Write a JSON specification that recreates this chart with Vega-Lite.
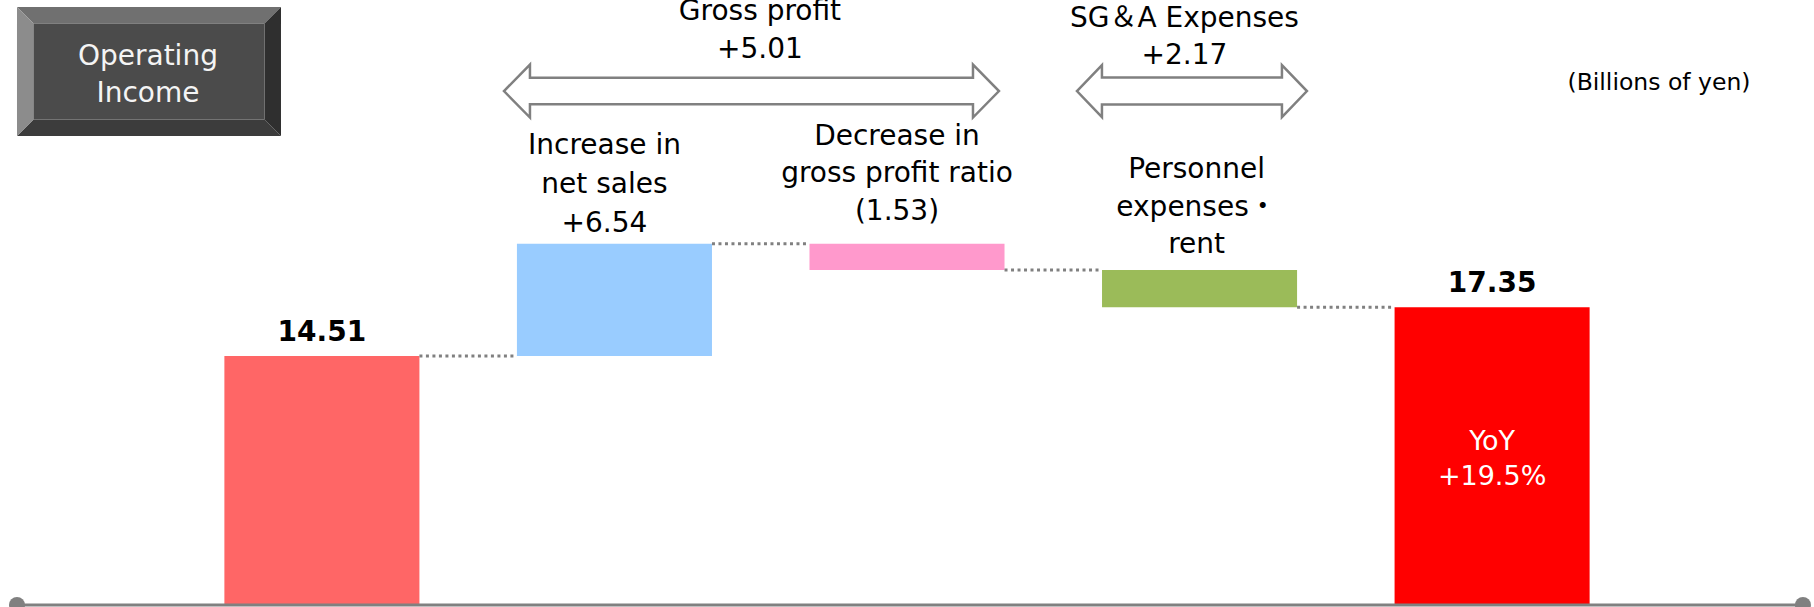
{
  "$schema": "https://vega.github.io/schema/vega-lite/v6.json",
  "width": 1814,
  "height": 605,
  "autosize": {"type": "none"},
  "padding": {"left": 0, "right": 0, "top": 0, "bottom": 2},
  "background": "#ffffff",
  "config": {"view": {"stroke": null}, "text": {"font": "DejaVu Sans, Noto Sans CJK JP"}},
  "datasets": {
    "steps": [
      {"step": "Previous year", "kind": "total", "change": 14.51, "start": 0, "end": 14.51},
      {"step": "Increase in net sales", "kind": "change", "change": 6.54, "start": 14.51, "end": 21.05, "label": "Increase in\nnet sales\n+6.54"},
      {"step": "Decrease in gross profit ratio", "kind": "change", "change": -1.53, "start": 21.05, "end": 19.52, "label": "Decrease in\ngross profit ratio\n(1.53)"},
      {"step": "Personnel expenses・rent", "kind": "change", "change": -2.17, "start": 19.52, "end": 17.35, "label": "Personnel\nexpenses・\nrent"},
      {"step": "Current year", "kind": "total", "change": 17.35, "start": 0, "end": 17.35, "note": "YoY\n+19.5%"}
    ],
    "connectors": [
      {"from": "Previous year", "to": "Increase in net sales", "level": 14.51},
      {"from": "Increase in net sales", "to": "Decrease in gross profit ratio", "level": 21.05},
      {"from": "Decrease in gross profit ratio", "to": "Personnel expenses・rent", "level": 19.52},
      {"from": "Personnel expenses・rent", "to": "Current year", "level": 17.35}
    ],
    "brackets": [
      {"group": "Gross profit", "change": 5.01, "anchor": "Increase in net sales", "label": "Gross profit\n+5.01"},
      {"group": "SG＆A Expenses", "change": 2.17, "anchor": "Personnel expenses・rent", "label": "SG＆A Expenses\n+2.17"}
    ],
    "meta": [
      {"title": "Operating Income", "unit": "(Billions of yen)"}
    ]
  },
  "layer": [
    {
      "data": {"name": "steps"},
      "mark": {"type": "bar"},
      "encoding": {
        "x": {"field": "step", "type": "nominal", "axis": null,
          "scale": {"type": "band", "domain": ["Previous year", "Increase in net sales", "Decrease in gross profit ratio", "Personnel expenses・rent", "Current year"], "paddingInner": 0.3333, "paddingOuter": 0.767}},
        "y": {"field": "start", "type": "quantitative", "axis": null, "scale": {"domain": [0, 35.256], "nice": false, "zero": false}},
        "y2": {"field": "end"},
        "color": {"field": "step", "type": "nominal", "legend": null,
          "scale": {"domain": ["Previous year", "Increase in net sales", "Decrease in gross profit ratio", "Personnel expenses・rent", "Current year"], "range": ["#FF6666", "#99CCFF", "#FF99CC", "#9BBB59", "#FF0000"]}}
      }
    },
    {
      "data": {"name": "meta"},
      "mark": {"type": "point", "shape": "M-1,-0.4886L1,-0.4886L0.875,-0.3636L-0.875,-0.3636Z", "size": 69696, "filled": true, "fill": "#707070", "opacity": 1, "strokeWidth": 0},
      "encoding": {"x": {"datum": "Previous year", "bandPosition": -0.3866}, "y": {"datum": 31.09}}
    },
    {
      "data": {"name": "meta"},
      "mark": {"type": "point", "shape": "M-1,0.4886L1,0.4886L0.875,0.3636L-0.875,0.3636Z", "size": 69696, "filled": true, "fill": "#3c3c3c", "opacity": 1, "strokeWidth": 0},
      "encoding": {"x": {"datum": "Previous year", "bandPosition": -0.3866}, "y": {"datum": 31.09}}
    },
    {
      "data": {"name": "meta"},
      "mark": {"type": "point", "shape": "M-1,-0.4886L-0.875,-0.3636L-0.875,0.3636L-1,0.4886Z", "size": 69696, "filled": true, "fill": "#8c8c8c", "opacity": 1, "strokeWidth": 0},
      "encoding": {"x": {"datum": "Previous year", "bandPosition": -0.3866}, "y": {"datum": 31.09}}
    },
    {
      "data": {"name": "meta"},
      "mark": {"type": "point", "shape": "M1,-0.4886L0.875,-0.3636L0.875,0.3636L1,0.4886Z", "size": 69696, "filled": true, "fill": "#2f2f2f", "opacity": 1, "strokeWidth": 0},
      "encoding": {"x": {"datum": "Previous year", "bandPosition": -0.3866}, "y": {"datum": 31.09}}
    },
    {
      "data": {"name": "meta"},
      "mark": {"type": "point", "shape": "M-0.875,-0.3636L0.875,-0.3636L0.875,0.3636L-0.875,0.3636Z", "size": 69696, "filled": true, "fill": "#4b4b4b", "opacity": 1, "strokeWidth": 0},
      "encoding": {"x": {"datum": "Previous year", "bandPosition": -0.3866}, "y": {"datum": 31.09}}
    },
    {
      "data": {"name": "meta"},
      "mark": {"type": "text", "fontSize": 28, "color": "#f4f4f4", "lineBreak": " ", "lineHeight": 37, "baseline": "alphabetic", "align": "center"},
      "encoding": {"x": {"datum": "Previous year", "bandPosition": -0.392}, "y": {"datum": 31.47}, "text": {"field": "title"}}
    },
    {
      "data": {"name": "meta"},
      "mark": {"type": "text", "fontSize": 23.5, "color": "#000000", "baseline": "alphabetic", "align": "center"},
      "encoding": {"x": {"datum": "Current year", "bandPosition": 1.3556}, "y": {"datum": 30.01}, "text": {"field": "unit"}}
    },
    {
      "data": {"name": "brackets"},
      "transform": [{"filter": "datum.group === 'Gross profit'"}],
      "mark": {"type": "point", "shape": "M-1,0L-0.895,-0.1071L-0.895,-0.0535L0.895,-0.0535L0.895,-0.1071L1,0L0.895,0.1071L0.895,0.0535L-0.895,0.0535L-0.895,0.1071Z", "size": 245025, "filled": true, "fill": "#ffffff", "stroke": "#808080", "strokeWidth": 2.5, "opacity": 1},
      "encoding": {"x": {"field": "anchor", "type": "nominal", "bandPosition": 1.2025}, "y": {"datum": 29.95}}
    },
    {
      "data": {"name": "brackets"},
      "transform": [{"filter": "datum.group === 'SG＆A Expenses'"}],
      "mark": {"type": "point", "shape": "M-1,0L-0.7826,-0.2261L-0.7826,-0.1174L0.7826,-0.1174L0.7826,-0.2261L1,0L0.7826,0.2261L0.7826,0.1174L-0.7826,0.1174L-0.7826,0.2261Z", "size": 52900, "filled": true, "fill": "#ffffff", "stroke": "#808080", "strokeWidth": 2.5, "opacity": 1},
      "encoding": {"x": {"field": "anchor", "type": "nominal", "bandPosition": 0.461}, "y": {"datum": 29.95}}
    },
    {
      "data": {"name": "brackets"},
      "transform": [{"filter": "datum.group === 'Gross profit'"}],
      "mark": {"type": "text", "fontSize": 28, "color": "#000000", "lineBreak": "\n", "lineHeight": 38, "baseline": "alphabetic", "align": "center"},
      "encoding": {"x": {"field": "anchor", "type": "nominal", "bandPosition": 1.246}, "y": {"datum": 34.09}, "text": {"field": "label"}}
    },
    {
      "data": {"name": "brackets"},
      "transform": [{"filter": "datum.group === 'SG＆A Expenses'"}],
      "mark": {"type": "text", "fontSize": 28, "color": "#000000", "lineBreak": "\n", "lineHeight": 37, "baseline": "alphabetic", "align": "center"},
      "encoding": {"x": {"field": "anchor", "type": "nominal", "bandPosition": 0.4227}, "y": {"datum": 33.68}, "text": {"field": "label"}}
    },
    {
      "data": {"name": "connectors"},
      "mark": {"type": "rule", "color": "#808080", "strokeWidth": 3, "strokeDash": [3, 3.5]},
      "encoding": {
        "x": {"field": "from", "type": "nominal", "bandPosition": 1},
        "x2": {"field": "to", "bandPosition": 0},
        "y": {"field": "level", "type": "quantitative"}
      }
    },
    {
      "data": {"name": "steps"},
      "transform": [{"filter": "datum.kind === 'total'"}],
      "mark": {"type": "text", "fontSize": 28, "fontWeight": "bold", "color": "#000000", "baseline": "alphabetic", "align": "center", "dy": -15},
      "encoding": {
        "x": {"field": "step", "type": "nominal"},
        "y": {"field": "end", "type": "quantitative"},
        "text": {"field": "change", "type": "quantitative", "format": ".2f"}
      }
    },
    {
      "data": {"name": "steps"},
      "transform": [{"filter": "datum.step === 'Current year'"}],
      "mark": {"type": "text", "fontSize": 27, "color": "#ffffff", "lineBreak": "\n", "lineHeight": 35, "baseline": "alphabetic", "align": "center", "dy": 143},
      "encoding": {
        "x": {"field": "step", "type": "nominal"},
        "y": {"field": "end", "type": "quantitative"},
        "text": {"field": "note"}
      }
    },
    {
      "data": {"name": "steps"},
      "transform": [{"filter": "datum.step === 'Increase in net sales'"}],
      "mark": {"type": "text", "fontSize": 28, "color": "#000000", "lineBreak": "\n", "lineHeight": 39, "baseline": "alphabetic", "align": "center", "dx": -10, "dy": -90},
      "encoding": {
        "x": {"field": "step", "type": "nominal"},
        "y": {"field": "end", "type": "quantitative"},
        "text": {"field": "label"}
      }
    },
    {
      "data": {"name": "steps"},
      "transform": [{"filter": "datum.step === 'Decrease in gross profit ratio'"}],
      "mark": {"type": "text", "fontSize": 28, "color": "#000000", "lineBreak": "\n", "lineHeight": 37.5, "baseline": "alphabetic", "align": "center", "dx": -10, "dy": -99},
      "encoding": {
        "x": {"field": "step", "type": "nominal"},
        "y": {"field": "start", "type": "quantitative"},
        "text": {"field": "label"}
      }
    },
    {
      "data": {"name": "steps"},
      "transform": [{"filter": "datum.step === 'Personnel expenses・rent'"}],
      "mark": {"type": "text", "fontSize": 28, "color": "#000000", "lineBreak": "\n", "lineHeight": 37.5, "baseline": "alphabetic", "align": "center", "dx": -3, "dy": -92},
      "encoding": {
        "x": {"field": "step", "type": "nominal"},
        "y": {"field": "start", "type": "quantitative"},
        "text": {"field": "label"}
      }
    },
    {
      "data": {"name": "meta"},
      "mark": {"type": "rule", "color": "#808080", "strokeWidth": 3},
      "encoding": {
        "x": {"datum": "Previous year", "bandPosition": -1.0633},
        "x2": {"datum": "Current year", "bandPosition": 2.0938},
        "y": {"datum": 0}
      }
    },
    {
      "data": {"name": "meta"},
      "mark": {"type": "point", "shape": "circle", "size": 256, "filled": true, "fill": "#808080", "opacity": 1, "strokeWidth": 0},
      "encoding": {"x": {"datum": "Previous year", "bandPosition": -1.0633}, "y": {"datum": 0}}
    },
    {
      "data": {"name": "meta"},
      "mark": {"type": "point", "shape": "circle", "size": 256, "filled": true, "fill": "#808080", "opacity": 1, "strokeWidth": 0},
      "encoding": {"x": {"datum": "Current year", "bandPosition": 2.0938}, "y": {"datum": 0}}
    }
  ]
}
